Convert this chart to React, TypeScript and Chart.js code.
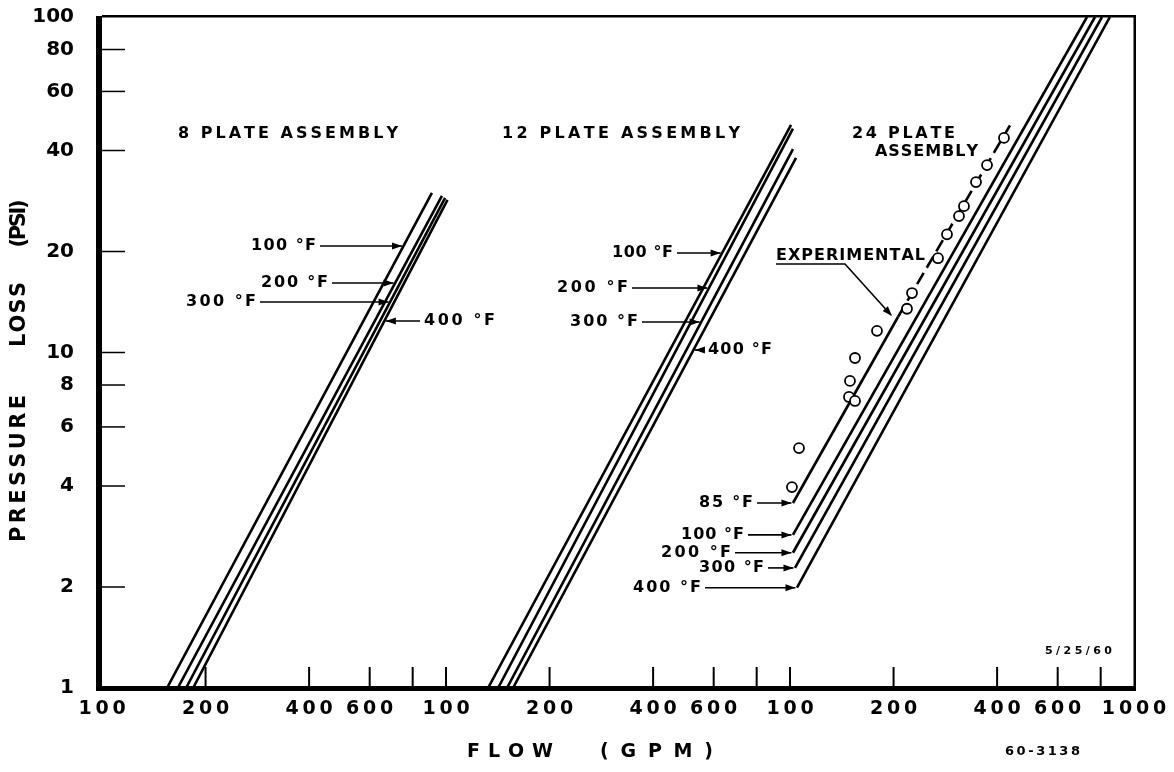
import React, { useEffect, useRef } from 'react';
import { Chart, registerables } from 'chart.js';

Chart.register(...registerables);

// ---------------- data ----------------
// y axis: pressure loss (PSI), logarithmic
const yTickValues = [1, 2, 4, 6, 8, 10, 20, 40, 60, 80, 100];
// x axis: three stacked flow decades (one per assembly) on one log axis
const xTickValues = [100, 200, 400, 600, 800, 1000, 2000, 4000, 6000, 8000, 10000, 20000, 40000, 60000, 80000, 100000];
const xTickLabels = ['100', '200', '400', '600', '', '100', '200', '400', '600', '', '100', '200', '400', '600', '', '1000'];

// decade shift of each assembly on the shared axis
const offset8 = 1;
const offset12 = 10;
const offset24 = 100;

// [flow GPM, pressure PSI]
const plate8_100F = [[154.5, 1], [910, 29.9]];
const plate8_200F = [[166, 1], [973, 29.3]];
const plate8_300F = [[175.5, 1], [994, 28.9]];
const plate8_400F = [[184, 1], [1010, 28.5]];

const plate12_100F = [[132.5, 1], [1007, 47.7]];
const plate12_200F = [[141.7, 1], [1020, 46.5]];
const plate12_300F = [[150.4, 1], [1020, 40.4]];
const plate12_400F = [[156.6, 1], [1041, 38.0]];

const plate24_85F = [[102, 3.56], [206, 12.76], [445, 49.3]];
const plate24_100F = [[102, 2.86], [730, 100]];
const plate24_200F = [[102, 2.53], [770, 100]];
const plate24_300F = [[103.4, 2.28], [807, 100]];
const plate24_400F = [[104.8, 1.99], [851, 100]];

// experimental points, 24 plate assembly
const expFlow = [101.3, 106.2, 148.4, 154.5, 149.4, 154.5, 179, 218.8, 226.3, 269.3, 286.0, 309.9, 320.4, 347.3, 373.9, 418.8];
const expPsi = [3.97, 5.19, 7.37, 7.17, 8.23, 9.63, 11.6, 13.5, 15.04, 19.1, 22.5, 25.5, 27.3, 32.2, 36.2, 43.6];

const seriesList = [
  { key: 'p8_100', pts: plate8_100F, off: offset8 },
  { key: 'p8_200', pts: plate8_200F, off: offset8 },
  { key: 'p8_300', pts: plate8_300F, off: offset8 },
  { key: 'p8_400', pts: plate8_400F, off: offset8 },
  { key: 'p12_100', pts: plate12_100F, off: offset12 },
  { key: 'p12_200', pts: plate12_200F, off: offset12 },
  { key: 'p12_300', pts: plate12_300F, off: offset12 },
  { key: 'p12_400', pts: plate12_400F, off: offset12 },
  { key: 'p24_85', pts: plate24_85F, off: offset24 },
  { key: 'p24_100', pts: plate24_100F, off: offset24 },
  { key: 'p24_200', pts: plate24_200F, off: offset24 },
  { key: 'p24_300', pts: plate24_300F, off: offset24 },
  { key: 'p24_400', pts: plate24_400F, off: offset24 },
];

// ---------------- annotation layout (not data) ----------------
const FONT = '"DejaVu Sans"';
const titleTexts = [
  { text: '8 PLATE ASSEMBLY', x: 178, y: 134, w: 220, size: 16 },
  { text: '12 PLATE ASSEMBLY', x: 502, y: 134, w: 238, size: 16 },
  { text: '24 PLATE', x: 852, y: 133.5, w: 103, size: 16 },
  { text: 'ASSEMBLY', x: 875, y: 151.5, w: 103, size: 16 },
  { text: 'EXPERIMENTAL', x: 776, y: 256, w: 149, size: 16 },
  { text: '5/25/60', x: 1045, y: 651, w: 67, size: 11 },
  { text: '60-3138', x: 1005, y: 752, w: 75, size: 13 },
  { text: 'FLOW', x: 467, y: 752, w: 86, size: 19 },
  { text: '(GPM)', x: 600, y: 752, w: 113, size: 19 },
];
const yTitleWords = [
  { text: 'PRESSURE', cy: 468.5, w: 147 },
  { text: 'LOSS', cy: 314.5, w: 65 },
  { text: '(PSI)', cy: 223.5, w: 48 },
];
// arrows: tip lies on a series at pressure p (null = lower end of series)
const tempArrows = [
  { text: '100 °F', key: 'p8_100', p: 20.77, tail: 320, side: 'left', w: 65 },
  { text: '200 °F', key: 'p8_200', p: 16.11, tail: 332, side: 'left', w: 67 },
  { text: '300 °F', key: 'p8_300', p: 14.14, tail: 260, side: 'left', w: 70 },
  { text: '400 °F', key: 'p8_400', p: 12.41, tail: 420, side: 'right', w: 71 },
  { text: '100 °F', key: 'p12_100', p: 19.8, tail: 677, side: 'left', w: 61 },
  { text: '200 °F', key: 'p12_200', p: 15.57, tail: 632, side: 'left', w: 71 },
  { text: '300 °F', key: 'p12_300', p: 12.33, tail: 642, side: 'left', w: 68 },
  { text: '400 °F', key: 'p12_400', p: 10.17, tail: 704, side: 'right', w: 64 },
  { text: '85 °F', key: 'p24_85', p: null, tail: 757, side: 'left', w: 54 },
  { text: '100 °F', key: 'p24_100', p: null, tail: 748, side: 'left', w: 63 },
  { text: '200 °F', key: 'p24_200', p: null, tail: 735, side: 'left', w: 70 },
  { text: '300 °F', key: 'p24_300', p: null, tail: 768, side: 'left', w: 65 },
  { text: '400 °F', key: 'p24_400', p: null, tail: 705, side: 'left', w: 68 },
];

function fitText(ctx: CanvasRenderingContext2D, text: string, x: number, y: number, width: number, size: number, align: string) {
  ctx.font = `bold ${size}px ${FONT}`;
  const chars = Array.from(text);
  const widths = chars.map((c) => ctx.measureText(c).width);
  const total = widths.reduce((a, b) => a + b, 0);
  const sp = chars.length > 1 ? (width - total) / (chars.length - 1) : 0;
  let cx = align === 'left' ? x : align === 'right' ? x - width : x - width / 2;
  ctx.textAlign = 'left';
  ctx.textBaseline = 'middle';
  chars.forEach((c, i) => {
    ctx.fillText(c, cx, y);
    cx += widths[i] + sp;
  });
}

function arrowHead(ctx: CanvasRenderingContext2D, fx: number, fy: number, tx: number, ty: number) {
  const ang = Math.atan2(ty - fy, tx - fx);
  const L = 10, H = 3.5;
  ctx.beginPath();
  ctx.moveTo(tx, ty);
  ctx.lineTo(tx - L * Math.cos(ang) + H * Math.sin(ang), ty - L * Math.sin(ang) - H * Math.cos(ang));
  ctx.lineTo(tx - L * Math.cos(ang) - H * Math.sin(ang), ty - L * Math.sin(ang) + H * Math.cos(ang));
  ctx.closePath();
  ctx.fill();
}

const decorPlugin = {
  id: 'decor',
  afterDraw(chart: any) {
    const { ctx, chartArea: a, scales } = chart;
    const xs = scales.x;
    const ys = scales.y;
    ctx.save();
    ctx.fillStyle = '#000';
    ctx.strokeStyle = '#000';
    // frame
    ctx.fillRect(a.left - 6, a.top - 1, 6, a.bottom - a.top + 4);
    ctx.fillRect(a.left - 6, a.bottom - 2, a.right - a.left + 8, 5);
    ctx.fillRect(a.left, a.top - 2, a.right - a.left + 2, 2.5);
    ctx.fillRect(a.right - 0.5, a.top - 2, 2.5, a.bottom - a.top + 2);
    // inward tick marks
    yTickValues.forEach((v) => {
      if (v === ys.min || v === ys.max) return;
      const py = ys.getPixelForValue(v);
      ctx.fillRect(a.left, py - 0.75, 23, 1.5);
    });
    xTickValues.forEach((v) => {
      if (v === xs.min || v === xs.max) return;
      const px = xs.getPixelForValue(v);
      ctx.fillRect(px - 1, a.bottom - 21, 2, 21);
    });
    // texts
    titleTexts.forEach((t) => fitText(ctx, t.text, t.x, t.y, t.w, t.size, 'left'));
    yTitleWords.forEach((t) => {
      ctx.save();
      ctx.translate(20, t.cy);
      ctx.rotate(-Math.PI / 2);
      fitText(ctx, t.text, 0, 0, t.w, 21, 'center');
      ctx.restore();
    });
    // temperature arrows
    ctx.lineWidth = 1.6;
    tempArrows.forEach((ar) => {
      const s = seriesList.find((q) => q.key === ar.key)!;
      const p0 = s.pts[0];
      const p1 = s.pts[s.pts.length - 1];
      const x0 = xs.getPixelForValue(p0[0] * s.off), y0 = ys.getPixelForValue(p0[1]);
      const x1 = xs.getPixelForValue(p1[0] * s.off), y1 = ys.getPixelForValue(p1[1]);
      let tx: number, ty: number;
      if (ar.p === null) {
        tx = x0 - 1.5; ty = y0;
      } else {
        ty = ys.getPixelForValue(ar.p);
        tx = x0 + ((ty - y0) * (x1 - x0)) / (y1 - y0) + (ar.side === 'left' ? -1.5 : 1.5);
      }
      ctx.beginPath();
      ctx.moveTo(ar.tail, ty);
      ctx.lineTo(tx, ty);
      ctx.stroke();
      arrowHead(ctx, ar.tail, ty, tx, ty);
      if (ar.side === 'left') fitText(ctx, ar.text, ar.tail - 4, ty, ar.w, 16, 'right');
      else fitText(ctx, ar.text, ar.tail + 4, ty, ar.w, 16, 'left');
    });
    // EXPERIMENTAL leader
    ctx.beginPath();
    ctx.moveTo(776, 264);
    ctx.lineTo(845, 264);
    ctx.lineTo(891, 315);
    ctx.stroke();
    arrowHead(ctx, 845, 264, 892, 316);
    ctx.restore();
  },
};

export default function App() {
  const ref = useRef<HTMLCanvasElement>(null);
  useEffect(() => {
    document.body.style.margin = '0';
    document.body.style.background = '#fff';
    const canvas = ref.current!;
    const datasets: any[] = [
      {
        label: 'Experimental',
        data: expFlow.map((q, i) => ({ x: q * offset24, y: expPsi[i] })),
        showLine: false,
        pointRadius: 5,
        pointBorderWidth: 1.8,
        pointBackgroundColor: '#fff',
        pointBorderColor: '#000',
        order: -1,
      },
      ...seriesList.map((s) => ({
        label: s.key,
        data: s.pts.map((p) => ({ x: p[0] * s.off, y: p[1] })),
        borderColor: '#000',
        borderWidth: 2.6,
        pointRadius: 0,
        fill: false,
        tension: 0,
        segment: s.key === 'p24_85' ? { borderDash: (c: any) => (c.p0DataIndex >= 1 ? [13, 6] : undefined) } : undefined,
      })),
    ];
    const tickFont = { family: 'DejaVu Sans', weight: 'bold' as const, size: 19 };
    const chart = new Chart(canvas, {
      type: 'line',
      data: { datasets },
      options: {
        animation: false,
        responsive: false,
        devicePixelRatio: 1,
        layout: { padding: { left: 0, right: 40, top: 17, bottom: 0 } },
        plugins: { legend: { display: false }, tooltip: { enabled: false } },
        scales: {
          x: {
            type: 'logarithmic',
            min: 100,
            max: 100000,
            afterBuildTicks: (s: any) => { s.ticks = xTickValues.map((v) => ({ value: v })); },
            afterFit: (s: any) => { s.height = 84; s.paddingLeft = 0; s.paddingRight = 0; },
            grid: { display: false, drawTicks: false },
            border: { display: false },
            ticks: {
              autoSkip: false, maxRotation: 0, minRotation: 0, padding: 10, color: '#000', font: tickFont,
              callback: (_v: any, i: number) => Array.from(xTickLabels[i] || '').join('\u2009'),
            },
          },
          y: {
            type: 'logarithmic',
            min: 1,
            max: 100,
            afterBuildTicks: (s: any) => { s.ticks = yTickValues.map((v) => ({ value: v })); },
            afterFit: (s: any) => { s.width = 102; s.paddingTop = 0; s.paddingBottom = 0; },
            grid: { display: false, drawTicks: false },
            border: { display: false },
            ticks: {
              autoSkip: false, padding: 28, color: '#000', font: { ...tickFont, size: 20 },
              callback: (v: any) => String(v),
            },
          },
        },
      },
      plugins: [decorPlugin],
    });
    return () => chart.destroy();
  }, []);
  return <canvas ref={ref} width={1174} height={772} style={{ display: 'block' }} />;
}
